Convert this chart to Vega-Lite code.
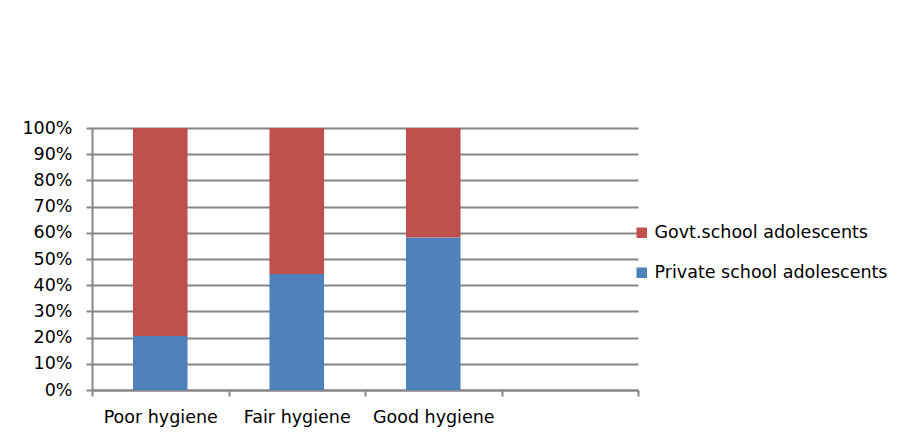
{
  "$schema": "https://vega.github.io/schema/vega-lite/v6.json",
  "autosize": {"type": "none"},
  "width": 546,
  "height": 262,
  "padding": {"left": 92, "top": 128, "right": 267, "bottom": 57},
  "background": "white",
  "config": {
    "view": {"stroke": null},
    "font": "DejaVu Sans",
    "axis": {
      "labelFont": "DejaVu Sans",
      "labelFontSize": 17.5,
      "labelColor": "#000000",
      "domainColor": "#868686",
      "domainWidth": 2,
      "tickColor": "#868686",
      "tickWidth": 2,
      "tickSize": 6,
      "gridColor": "#868686",
      "gridWidth": 2,
      "title": null
    },
    "legend": {
      "labelFont": "DejaVu Sans",
      "labelFontSize": 17.5,
      "labelColor": "#000000",
      "labelLimit": 400
    }
  },
  "data": {
    "values": [
      {"hygiene": "Poor hygiene", "group": "Private school adolescents", "pct": 20.6},
      {"hygiene": "Poor hygiene", "group": "Govt.school adolescents", "pct": 79.4},
      {"hygiene": "Fair hygiene", "group": "Private school adolescents", "pct": 44.3},
      {"hygiene": "Fair hygiene", "group": "Govt.school adolescents", "pct": 55.7},
      {"hygiene": "Good hygiene", "group": "Private school adolescents", "pct": 58.2},
      {"hygiene": "Good hygiene", "group": "Govt.school adolescents", "pct": 41.8}
    ]
  },
  "mark": {"type": "bar", "width": {"band": 0.4}},
  "encoding": {
    "x": {
      "field": "hygiene",
      "type": "nominal",
      "scale": {
        "domain": ["Poor hygiene", "Fair hygiene", "Good hygiene", " "],
        "paddingInner": 0,
        "paddingOuter": 0
      },
      "axis": {
        "labelAngle": 0,
        "labelPadding": 12,
        "tickBand": "extent",
        "grid": false
      }
    },
    "y": {
      "field": "pct",
      "type": "quantitative",
      "stack": "normalize",
      "scale": {"domain": [0, 1], "nice": false},
      "axis": {
        "format": ".0%",
        "values": [0, 0.1, 0.2, 0.3, 0.4, 0.5, 0.6, 0.7, 0.8, 0.9, 1],
        "grid": true,
        "labelPadding": 14
      }
    },
    "color": {
      "field": "group",
      "type": "nominal",
      "scale": {
        "domain": ["Govt.school adolescents", "Private school adolescents"],
        "range": ["#C0504D", "#4F81BD"]
      },
      "legend": {
        "title": null,
        "orient": "none",
        "legendX": 541,
        "legendY": 96,
        "symbolType": "square",
        "symbolSize": 110,
        "symbolStrokeWidth": 0,
        "labelOffset": 4,
        "rowPadding": 21
      }
    },
    "order": {"field": "group", "sort": "descending"}
  }
}
